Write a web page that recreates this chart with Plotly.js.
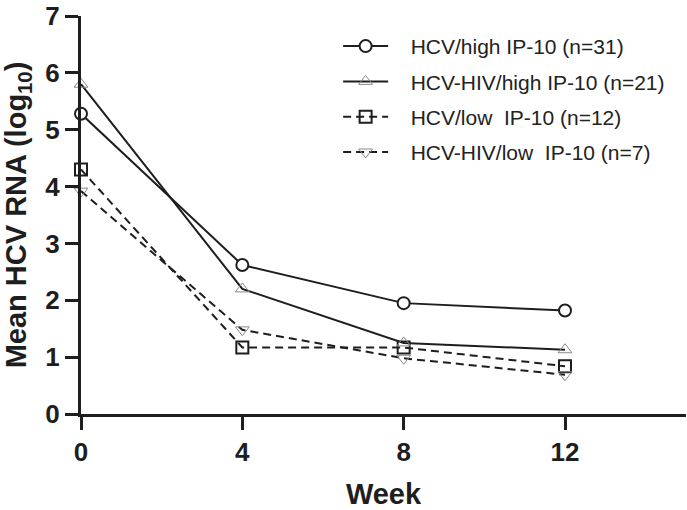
<!DOCTYPE html>
<html>
<head>
<meta charset="utf-8">
<script src="https://cdn.plot.ly/plotly-3.0.1.min.js"></script>
<style>html,body{margin:0;padding:0;background:#fff;}#chart{width:687px;height:510px;}</style>
</head>
<body>
<div id="chart"></div>
<script>
const weeks = [0, 4, 8, 12];
const seriesNames = [
  "HCV/high IP-10 (n=31)",
  "HCV-HIV/high IP-10 (n=21)",
  "HCV/low\u00a0 IP-10 (n=12)",
  "HCV-HIV/low\u00a0 IP-10 (n=7)"
];
const hcvHigh = [5.28, 2.62, 1.95, 1.82];
const hcvHivHigh = [5.8, 2.2, 1.25, 1.13];
const hcvLow = [4.3, 1.17, 1.17, 0.84];
const hcvHivLow = [3.92, 1.48, 0.98, 0.69];
const xTicks = [0, 4, 8, 12];
const yTicks = [0, 1, 2, 3, 4, 5, 6, 7];

const ink = '#1e1e1e';
const grey = '#8a8a8a';
const pad = '\u00a0\u00a0\u00a0';

function tr(name, y, dash, symbol, mcolor, mlw, fill, group, rank) {
  return {
    x: weeks, y: y, name: pad + name, type: 'scatter', mode: 'lines+markers',
    legendgroup: group, legendrank: rank,
    line: {color: ink, width: 2, dash: dash},
    marker: {symbol: symbol, size: 12, color: fill, line: {color: mcolor, width: mlw}},
    cliponaxis: false
  };
}

const data = [
  tr(seriesNames[2], hcvLow, '8px,5px', 'square', ink, 2, 'rgba(0,0,0,0)', 'c', 3),
  tr(seriesNames[3], hcvHivLow, '8px,5px', 'triangle-down', grey, 1, 'rgba(0,0,0,0)', 'd', 4),
  tr(seriesNames[1], hcvHivHigh, 'solid', 'triangle-up', grey, 1, 'rgba(0,0,0,0)', 'b', 2),
  tr(seriesNames[0], hcvHigh, 'solid', 'circle', ink, 2, '#ffffff', 'a', 1)
];

const tickFont = {family: 'Liberation Sans, Arial, sans-serif', size: 26, color: ink, weight: 'bold'};

const layout = {
  width: 687, height: 510,
  margin: {l: 81, r: 1, t: 16, b: 96},
  paper_bgcolor: '#fff', plot_bgcolor: '#fff',
  showlegend: true,
  legend: {
    x: 0.425, y: 0.975, xanchor: 'left', yanchor: 'top',
    traceorder: 'grouped', tracegroupgap: 5,
    font: {family: 'Liberation Sans, Arial, sans-serif', size: 21, color: '#222'},
    itemwidth: 45, bgcolor: 'rgba(0,0,0,0)'
  },
  xaxis: {
    range: [0, 15], tickvals: xTicks, ticktext: xTicks.map(String),
    showgrid: false, zeroline: false, showline: true, linewidth: 3, linecolor: ink,
    ticks: 'outside', ticklen: 13, tickwidth: 3, tickcolor: ink,
    tickfont: tickFont,
    title: {text: 'Week', font: {family: 'Liberation Sans, Arial, sans-serif', size: 29, color: ink, weight: 'bold'}}
  },
  yaxis: {
    range: [0, 7], tickvals: yTicks, ticktext: yTicks.map(String),
    showgrid: false, zeroline: false, showline: true, linewidth: 3, linecolor: ink,
    ticks: 'outside', ticklen: 13, tickwidth: 3, tickcolor: ink,
    tickfont: tickFont,
    title: {text: 'Mean HCV RNA (log<sub>10</sub>)', font: {family: 'Liberation Sans, Arial, sans-serif', size: 29, color: ink, weight: 'bold'}}
  }
};

Plotly.newPlot('chart', data, layout, {displayModeBar: false, staticPlot: true});
</script>
</body>
</html>
